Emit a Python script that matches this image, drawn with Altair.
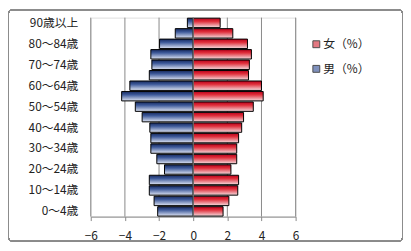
import altair as alt
import pandas as pd

ages = ["0～4歳", "5～9歳", "10～14歳", "15～19歳", "20～24歳", "25～29歳",
        "30～34歳", "35～39歳", "40～44歳", "45～49歳", "50～54歳", "55～59歳",
        "60～64歳", "65～69歳", "70～74歳", "75～79歳", "80～84歳", "85～89歳",
        "90歳以上"]
male = [-2.08, -2.29, -2.57, -2.57, -1.68, -2.13, -2.48, -2.48, -2.54, -2.99,
        -3.39, -4.19, -3.71, -2.57, -2.42, -2.48, -1.97, -1.05, -0.34]
female = [1.75, 2.09, 2.61, 2.66, 2.21, 2.55, 2.55, 2.66, 2.84, 2.95,
          3.52, 4.10, 4.00, 3.24, 3.29, 3.41, 3.18, 2.32, 1.58]
series = ["女（%）", "男（%）"]
x_ticks = [-6, -4, -2, 0, 2, 4, 6]
labeled = ages[::2]

df = pd.DataFrame(
    [{"age": a, "sex": series[1], "value": v} for a, v in zip(ages, male)]
    + [{"age": a, "sex": series[0], "value": v} for a, v in zip(ages, female)]
)
ticks_df = pd.DataFrame({"value": x_ticks})

FONT = "Noto Sans CJK JP"
W, H = 208, 202
PL, PT, PR, PB = 84, 8, 109, 25

red_grad = alt.Gradient(
    gradient="linear", x1=0, x2=0, y1=0, y2=1,
    stops=[alt.GradientStop(color="#b8001a", offset=0),
           alt.GradientStop(color="#e0303c", offset=0.35),
           alt.GradientStop(color="#f5dde0", offset=1)])
blue_grad = alt.Gradient(
    gradient="linear", x1=0, x2=0, y1=0, y2=1,
    stops=[alt.GradientStop(color="#16295e", offset=0),
           alt.GradientStop(color="#3e5a9a", offset=0.35),
           alt.GradientStop(color="#dfe5f4", offset=1)])

xscale = alt.Scale(domain=[-6, 6], nice=False, zero=False)
xaxis = alt.Axis(values=x_ticks, title=None, grid=False,
                 domainColor="#888888", tickColor="#888888",
                 tickSize=4, labelPadding=10, labelFont=FONT,
                 labelFontSize=12, labelColor="#222222",
                 labelFlush=False, labelOverlap=False, format="d")
x_enc = alt.X("value:Q", scale=xscale, axis=xaxis)
y_enc = alt.Y("age:N",
              scale=alt.Scale(domain=ages[::-1], paddingInner=0.1,
                              paddingOuter=0.05),
              axis=alt.Axis(values=labeled, title=None, domain=False,
                            ticks=False, tickSize=0, labelPadding=13,
                            labelFont=FONT, labelFontSize=12,
                            labelColor="#222222", grid=False))

base = alt.Chart(df)

frame = base.mark_rect(fill="transparent", stroke="#8c8c8c", strokeWidth=1,
                       cornerRadius=3).encode(
    x=alt.value(-PL + 0.5), x2=alt.value(W + PR - 0.5),
    y=alt.value(-PT + 0.5), y2=alt.value(H + PB - 0.5))

grid = alt.Chart(ticks_df).mark_rule(color="#888888", strokeWidth=1).encode(
    x=x_enc)

fem = base.transform_filter(alt.datum.sex == series[0]).mark_bar(
    fill=red_grad, stroke="black", strokeWidth=1).encode(
    x=x_enc, x2=alt.datum(0), y=y_enc)
mal = base.transform_filter(alt.datum.sex == series[1]).mark_bar(
    fill=blue_grad, stroke="black", strokeWidth=1).encode(
    x=x_enc, x2=alt.datum(0), y=y_enc)

zero = alt.Chart(ticks_df).transform_filter(alt.datum.value == 0).mark_rule(
    color="#888888", strokeWidth=1).encode(x=x_enc)

legend_layer = base.transform_filter("false").mark_square(
    filled=True, stroke="black").encode(
    color=alt.Color("sex:N",
                    scale=alt.Scale(domain=series,
                                    range=["#d8404c", "#4a62a0"]),
                    legend=alt.Legend(title=None, orient="none",
                                      legendX=223, legendY=21,
                                      symbolType="square", symbolSize=49,
                                      symbolStrokeColor="black",
                                      symbolStrokeWidth=1,
                                      labelFont=FONT, labelFontSize=12,
                                      labelColor="#222222", labelOffset=1,
                                      rowPadding=13, padding=0)))

chart = alt.layer(frame, grid, mal, fem, zero, legend_layer).properties(
    width=W, height=H,
    autosize=alt.AutoSizeParams(type="none"),
    padding={"left": PL, "top": PT, "right": PR, "bottom": PB},
).configure_view(stroke=None).configure(background="white")

chart.save("out.html", embed_options={"renderer": "svg", "actions": False})
